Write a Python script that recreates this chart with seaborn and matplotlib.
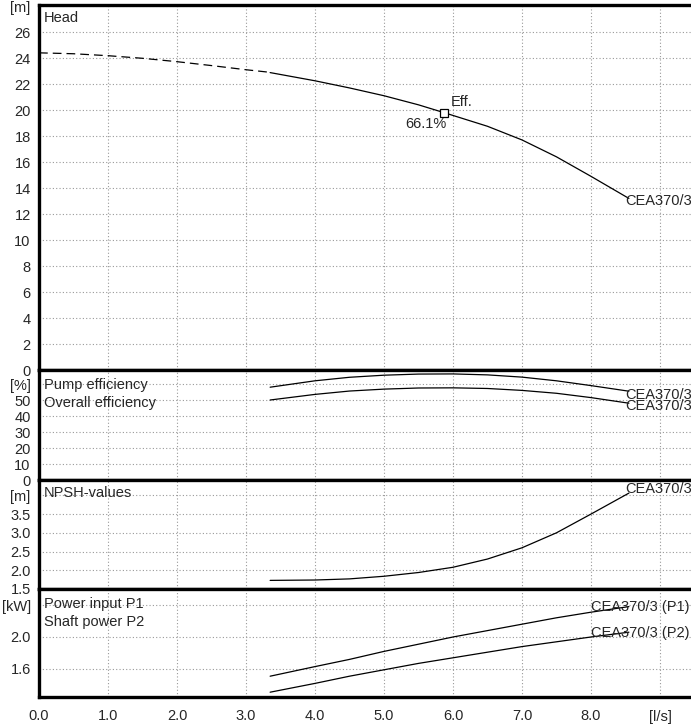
import numpy as np
import pandas as pd
import seaborn as sns
import matplotlib.pyplot as plt
from matplotlib.ticker import MultipleLocator, FixedLocator

# flow [l/s]
flow_dash = [0.0, 0.5, 1.0, 1.5, 2.0, 2.5, 3.0, 3.35]
head_dash = [24.4, 24.33, 24.18, 23.98, 23.72, 23.42, 23.1, 22.9]

flow = [3.35, 4.0, 4.5, 5.0, 5.5, 5.87, 6.5, 7.0, 7.5, 8.0, 8.55]
head = [22.88, 22.25, 21.7, 21.1, 20.4, 19.8, 18.75, 17.7, 16.4, 14.9, 13.2]

flow_b = [3.35, 4.0, 4.5, 5.0, 5.5, 6.0, 6.5, 7.0, 7.5, 8.0, 8.55]
pump_eff = [58.0, 62.0, 64.2, 65.5, 66.2, 66.3, 65.7, 64.3, 62.0, 59.0, 55.5]
overall_eff = [50.0, 53.5, 55.6, 56.8, 57.5, 57.6, 57.2, 56.0, 54.2, 51.5, 48.0]
npsh = [1.73, 1.74, 1.77, 1.84, 1.94, 2.08, 2.3, 2.6, 3.0, 3.5, 4.06]
p1 = [1.51, 1.63, 1.72, 1.82, 1.91, 2.0, 2.08, 2.16, 2.24, 2.31, 2.38]
p2 = [1.31, 1.42, 1.51, 1.59, 1.67, 1.74, 1.81, 1.88, 1.94, 2.0, 2.06]

bep_flow = 5.87
bep_head = 19.8
bep_eff = "66.1%"
pump_name = "CEA370/3"

sns.set_style("white")
plt.rcParams['font.family'] = ['Liberation Sans', 'DejaVu Sans']
plt.rcParams['font.size'] = 10.5

fig = plt.figure(figsize=(6.91, 7.26), dpi=100)
W, H = 691, 726
left = 39 / W
width = 1 - left


def panel(top_px, bot_px):
    return fig.add_axes([left, 1 - bot_px / H, width, (bot_px - top_px) / H])


ax_h = panel(5, 370)
ax_e = panel(370, 480)
ax_n = panel(480, 589)
ax_p = panel(589, 697)


def style(ax, ylim, yticks, ylabels, minor, last=False):
    ax.set_xlim(0, 9.45)
    ax.set_ylim(*ylim)
    for s in ['left', 'top', 'bottom']:
        ax.spines[s].set_linewidth(2.4)
        ax.spines[s].set_color('black')
    ax.spines['right'].set_visible(False)
    ax.yaxis.set_major_locator(FixedLocator(yticks))
    ax.set_yticklabels(ylabels)
    ax.yaxis.set_minor_locator(MultipleLocator(minor))
    ax.xaxis.set_major_locator(FixedLocator(list(range(10))))
    ax.xaxis.set_minor_locator(MultipleLocator(0.2))
    ax.tick_params(axis='y', which='major', direction='out', length=5, width=1.5, pad=1, labelsize=10.5)
    ax.tick_params(axis='y', which='minor', direction='out', length=3, width=1.2)
    ax.grid(True, which='major', color='#999999', linestyle=(0, (1, 2)), linewidth=0.8)
    ax.set_axisbelow(True)
    if last:
        ax.set_xticklabels(['0.0', '1.0', '2.0', '3.0', '4.0', '5.0', '6.0', '7.0', '8.0', '[l/s]'])
        ax.tick_params(axis='x', which='major', direction='out', length=5, width=1.5, labelsize=10.5, pad=4)
        ax.tick_params(axis='x', which='minor', direction='out', length=3, width=1.2)
    else:
        ax.tick_params(axis='x', which='both', length=0, labelbottom=False)
    ax.set_xlabel('')
    ax.set_ylabel('')


# head panel
sns.lineplot(x=flow_dash, y=head_dash, ax=ax_h, color='black', lw=0.9, linestyle=(0, (7, 4)))
sns.lineplot(x=flow, y=head, ax=ax_h, color='black', lw=0.9)
ax_h.plot([bep_flow], [bep_head], marker='s', ms=6, mfc='white', mec='black', mew=0.9)
ax_h.text(bep_flow + 0.1, bep_head + 0.3, 'Eff.', ha='left', va='bottom')
ax_h.text(bep_flow + 0.03, bep_head - 0.35, bep_eff, ha='right', va='top')
ax_h.text(8.5, head[-1] - 0.2, pump_name, ha='left', va='center')
ax_h.text(0.07, 27.1, 'Head', ha='left', va='center')
style(ax_h, (0, 28.08), list(range(0, 30, 2)),
      [str(v) for v in range(0, 28, 2)] + ['[m]'], 0.5)

# efficiency panel
sns.lineplot(x=flow_b, y=pump_eff, ax=ax_e, color='black', lw=0.9)
sns.lineplot(x=flow_b, y=overall_eff, ax=ax_e, color='black', lw=0.9)
ax_e.text(8.5, 53.0, pump_name, ha='left', va='center')
ax_e.text(8.5, 46.3, pump_name, ha='left', va='center')
ax_e.text(0.07, 59.5, 'Pump efficiency', ha='left', va='center')
ax_e.text(0.07, 48.3, 'Overall efficiency', ha='left', va='center')
style(ax_e, (0, 68.75), list(range(0, 70, 10)),
      ['0', '10', '20', '30', '40', '50', '[%]'], 2)

# NPSH panel
sns.lineplot(x=flow_b, y=npsh, ax=ax_n, color='black', lw=0.9)
ax_n.text(8.5, npsh[-1] + 0.1, pump_name, ha='left', va='center')
ax_n.text(0.07, 4.05, 'NPSH-values', ha='left', va='center')
style(ax_n, (1.5, 4.41), [1.5, 2.0, 2.5, 3.0, 3.5, 4.0],
      ['1.5', '2.0', '2.5', '3.0', '3.5', '[m]'], 0.1)

# power panel
sns.lineplot(x=flow_b, y=p1, ax=ax_p, color='black', lw=0.9)
sns.lineplot(x=flow_b, y=p2, ax=ax_p, color='black', lw=0.9)
ax_p.text(8.0, 2.375, pump_name + ' (P1)', ha='left', va='center')
ax_p.text(8.0, 2.05, pump_name + ' (P2)', ha='left', va='center')
ax_p.text(0.07, 2.41, 'Power input P1', ha='left', va='center')
ax_p.text(0.07, 2.19, 'Shaft power P2', ha='left', va='center')
style(ax_p, (1.25, 2.6), [1.6, 2.0, 2.4], ['1.6', '2.0', '[kW]'], 0.1, last=True)

fig.savefig('out.png', dpi=100)
